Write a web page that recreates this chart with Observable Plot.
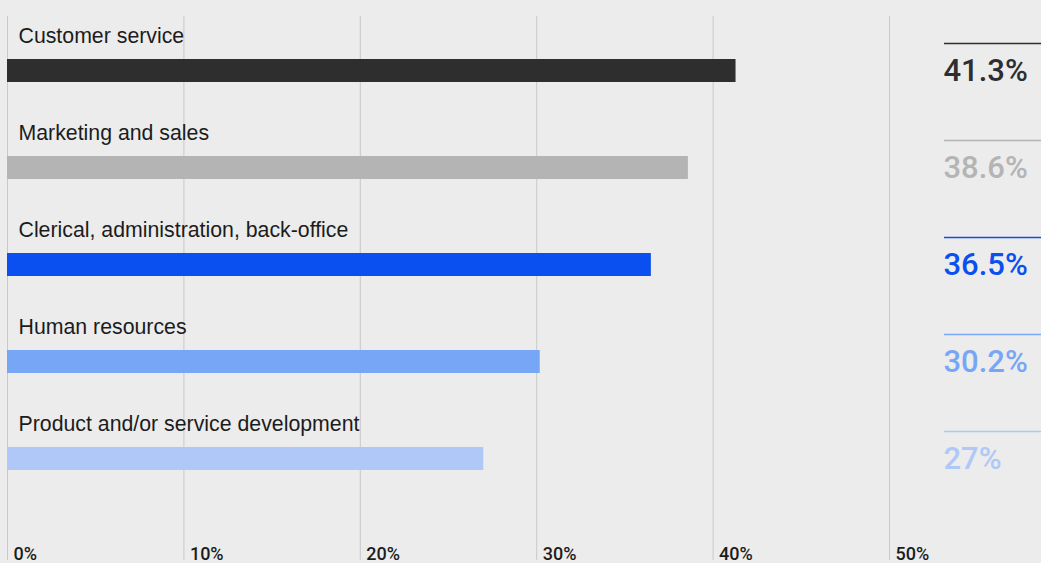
<!DOCTYPE html>
<html>
<head>
<meta charset="utf-8">
<script src="https://cdn.jsdelivr.net/npm/d3@7"></script>
<script src="https://cdn.jsdelivr.net/npm/@observablehq/plot@0.6"></script>
<style>
  html, body { margin: 0; padding: 0; background: #ececec; overflow: hidden; }
</style>
</head>
<body>
<div id="chart"></div>
<script>
const categories = [
  "Customer service",
  "Marketing and sales",
  "Clerical, administration, back-office",
  "Human resources",
  "Product and/or service development"
];
const values = [41.3, 38.6, 36.5, 30.2, 27];
const colors = ["#2e2e2e", "#b4b4b4", "#0a4ff0", "#78a6f6", "#b0c8f8"];
const ticks = [0, 10, 20, 30, 40, 50];

const data = categories.map((c, i) => ({category: c, value: values[i], color: colors[i]}));

const chart = Plot.plot({
  width: 1041,
  height: 563,
  marginTop: 16,
  marginBottom: 3,
  marginLeft: 0,
  marginRight: 0,
  style: {background: "#ececec", fontFamily: "'Liberation Sans', Arial, sans-serif", overflow: "hidden"},
  x: {domain: [0, 50], range: [7, 889], axis: null},
  y: {domain: categories, range: [22, 507], padding: 0, axis: null},
  color: {type: "identity"},
  marks: [
    Plot.ruleX(ticks, {x: d => d, stroke: "#c9c9c9", strokeWidth: 1}),
    Plot.barX(data, {x: "value", y: "category", fill: "color", insetTop: 37, insetBottom: 37}),
    Plot.text(data, {y: "category", x: 0, dx: 11, dy: -35, text: "category", textAnchor: "start", fontSize: 21.3, fill: "#1c1c1c"}),
    Plot.ruleY(data, {y: "category", x1: 50, x2: 50, dx: 55, dy: -27.5, insetRight: -150, stroke: "color", strokeWidth: 1.5}),
    Plot.text(data, {y: "category", x: 50, dx: 54, text: d => d.value + "%", fill: "color", textAnchor: "start", fontSize: 31, fontWeight: 500, letterSpacing: -1.4, fontFamily: "Roboto, 'Liberation Sans', sans-serif"}),
    Plot.text(ticks, {x: d => d, frameAnchor: "bottom", dx: 6, dy: -1, lineAnchor: "bottom", text: d => d + "%", textAnchor: "start", fontWeight: 500, fontSize: 18, fill: "#1c1c1c", fontFamily: "Roboto, 'Liberation Sans', sans-serif"})
  ]
});
document.getElementById("chart").append(chart);
</script>
</body>
</html>
